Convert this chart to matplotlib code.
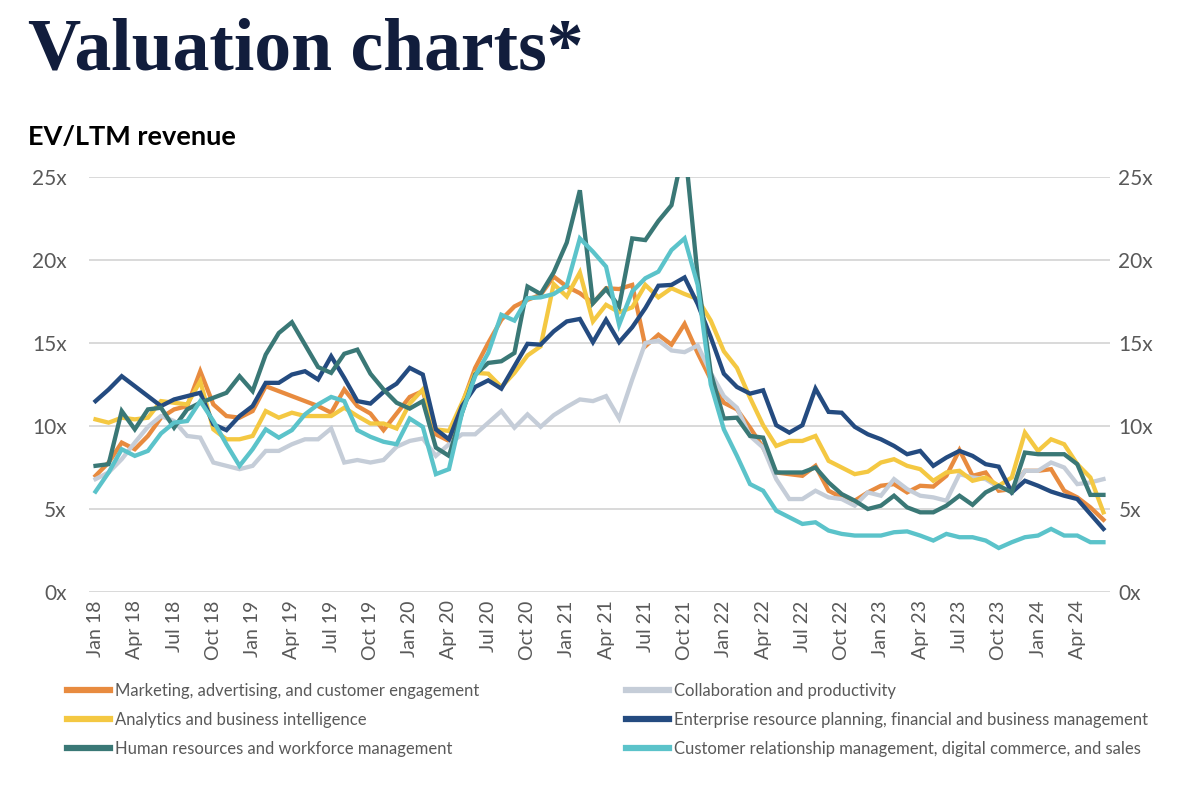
import matplotlib
matplotlib.use('Agg')
import matplotlib.pyplot as plt
from matplotlib.lines import Line2D
import numpy as np
import pandas as pd

# monthly categories Jan 18 .. Jun 24
months = pd.date_range('2018-01-01', periods=78, freq='MS')
month_labels = [m.strftime('%b %y') for m in months]

# EV / LTM revenue multiples
marketing = [7.0, 7.8, 9.0, 8.6, 9.4, 10.5, 11.0, 11.2, 13.3, 11.3,
             10.6, 10.5, 10.9, 12.4, 12.1, 11.8, 11.5, 11.2, 10.8, 12.2,
             11.2, 10.75, 9.75, 10.75, 11.75, 12.1, 9.5, 9.1, 11.3, 13.5,
             15.0, 16.4, 17.2, 17.6, 17.9, 19.0, 18.4, 18.0, 17.4, 18.3,
             18.25, 18.5, 14.8, 15.5, 14.9, 16.15, 14.4, 12.8, 11.4, 11.0,
             9.9, 8.7, 7.2, 7.1, 7.0, 7.6, 6.1, 5.7, 5.5, 6.0,
             6.4, 6.5, 6.0, 6.4, 6.35, 7.0, 8.55, 7.0, 7.2, 6.1,
             6.2, 7.3, 7.3, 7.4, 6.1, 5.7, 5.1, 4.35]

collaboration = [6.8, 7.2, 8.0, 9.0, 9.95, 10.6, 10.3, 9.4, 9.3, 7.8,
                 7.6, 7.4, 7.6, 8.5, 8.5, 8.9, 9.2, 9.2, 9.85, 7.8,
                 7.95, 7.8, 7.95, 8.75, 9.1, 9.25, 8.2, 8.9, 9.5, 9.5,
                 10.2, 10.9, 9.9, 10.7, 9.95, 10.65, 11.15, 11.6, 11.5, 11.8,
                 10.45, 12.8, 15.0, 15.15, 14.55, 14.45, 14.85, 13.2, 11.8, 11.1,
                 9.4, 8.7, 6.8, 5.6, 5.6, 6.1, 5.7, 5.6, 5.2, 6.0,
                 5.8, 6.8, 6.2, 5.8, 5.7, 5.5, 7.1, 6.9, 6.8, 6.3,
                 6.1, 7.3, 7.3, 7.8, 7.5, 6.5, 6.6, 6.8]

analytics = [10.4, 10.2, 10.5, 10.4, 10.5, 11.5, 11.4, 11.3, 12.7, 9.8,
             9.2, 9.2, 9.4, 10.9, 10.5, 10.8, 10.6, 10.6, 10.6, 11.1,
             10.6, 10.15, 10.15, 9.85, 11.35, 12.2, 9.8, 9.7, 11.4, 13.2,
             13.15, 12.35, 13.2, 14.25, 14.8, 18.55, 17.8, 19.25, 16.3, 17.3,
             16.85, 17.15, 18.5, 17.75, 18.3, 17.95, 17.65, 16.35, 14.5, 13.5,
             11.7, 10.05, 8.8, 9.1, 9.1, 9.4, 7.9, 7.5, 7.1, 7.25,
             7.8, 8.0, 7.6, 7.4, 6.7, 7.2, 7.3, 6.7, 6.9, 6.4,
             6.9, 9.6, 8.5, 9.2, 8.9, 7.7, 6.9, 4.8]

erp = [11.5, 12.2, 13.0, 12.4, 11.8, 11.2, 11.6, 11.8, 12.0, 10.1,
       9.75, 10.6, 11.2, 12.6, 12.6, 13.1, 13.3, 12.8, 14.2, 12.9,
       11.5, 11.35, 12.05, 12.55, 13.5, 13.1, 9.8, 9.2, 11.2, 12.35,
       12.75, 12.25, 13.6, 14.95, 14.9, 15.7, 16.3, 16.45, 15.05, 16.4,
       15.05, 15.95, 17.1, 18.45, 18.5, 18.95, 17.35, 15.35, 13.15, 12.35,
       11.95, 12.15, 10.05, 9.6, 10.05, 12.25, 10.85, 10.8, 9.95, 9.5,
       9.2, 8.8, 8.3, 8.5, 7.6, 8.1, 8.5, 8.2, 7.7, 7.55,
       6.0, 6.7, 6.4, 6.05, 5.8, 5.6, 4.7, 3.8]

hr = [7.6, 7.7, 10.9, 9.8, 11.0, 11.1, 9.9, 11.0, 11.4, 11.7,
      12.0, 13.0, 12.1, 14.3, 15.6, 16.25, 14.9, 13.55, 13.2, 14.35,
      14.6, 13.15, 12.2, 11.4, 11.05, 11.5, 8.7, 8.2, 10.8, 13.1,
      13.8, 13.9, 14.4, 18.4, 17.95, 19.25, 21.05, 24.2, 17.4, 18.25,
      17.2, 21.3, 21.2, 22.35, 23.3, 27.0, 19.0, 13.2, 10.45, 10.5,
      9.4, 9.3, 7.2, 7.2, 7.2, 7.5, 6.6, 5.9, 5.5, 5.0,
      5.2, 5.8, 5.1, 4.8, 4.8, 5.2, 5.8, 5.25, 6.0, 6.4,
      6.0, 8.4, 8.3, 8.3, 8.3, 7.7, 5.85, 5.85]

crm = [6.05, 7.2, 8.6, 8.2, 8.5, 9.55, 10.2, 10.3, 11.5, 10.3,
       8.9, 7.6, 8.6, 9.8, 9.3, 9.75, 10.7, 11.3, 11.75, 11.5,
       9.75, 9.35, 9.05, 8.9, 10.45, 9.95, 7.1, 7.4, 10.8, 13.0,
       14.4, 16.7, 16.35, 17.7, 17.75, 17.95, 18.45, 21.3, 20.5, 19.6,
       16.1, 18.1, 18.9, 19.3, 20.6, 21.3, 18.5, 12.5, 9.8, 8.2,
       6.5, 6.1, 4.9, 4.5, 4.1, 4.2, 3.7, 3.5, 3.4, 3.4,
       3.4, 3.6, 3.65, 3.4, 3.1, 3.5, 3.3, 3.3, 3.1, 2.65,
       3.0, 3.3, 3.4, 3.8, 3.4, 3.4, 3.0, 3.0]

series_names = ['Marketing, advertising, and customer engagement',
                'Collaboration and productivity',
                'Analytics and business intelligence',
                'Enterprise resource planning, financial and business management',
                'Human resources and workforce management',
                'Customer relationship management, digital commerce, and sales']
series_values = [marketing, collaboration, analytics, erp, hr, crm]
series_colors = ['#E88B3F', '#C5CDD8', '#F4C842', '#244B80', '#3A7876', '#5BC3CA']

y_ticks = [0, 5, 10, 15, 20, 25]

TEXT_GREY = '#595959'
GRID_GREY = '#D9D9D9'
NAVY = '#111D3C'
plt.rcParams['font.family'] = ['Lato', 'DejaVu Sans']

fig = plt.figure(figsize=(12, 7.99), dpi=100)
ax = fig.add_axes([89 / 1200, 1 - 592 / 799, 1021 / 1200, 415 / 799])

x = np.arange(len(months))
for vals, name, col in zip(series_values, series_names, series_colors):
    ax.plot(x, vals, color=col, lw=3.1, label=name, solid_joinstyle='miter')

ax.set_xlim(-0.5, len(months) - 0.5)
ax.set_ylim(0, 25)
ax.set_yticks(y_ticks)
ax.set_yticklabels([f'{v}x' for v in y_ticks])
ax.grid(axis='y', color=GRID_GREY, lw=1.4)
ax.set_axisbelow(True)
for s in ax.spines.values():
    s.set_visible(False)

qtr = x[::3]
ax.set_xticks(qtr)
ax.set_xticklabels([month_labels[i] for i in qtr], rotation=90, fontsize=14,
                   color=TEXT_GREY)
ax.tick_params(axis='x', length=0, pad=6)
ax.tick_params(axis='y', length=0, pad=16, labelsize=15, labelcolor=TEXT_GREY)

# right hand axis labels
ax2 = ax.twinx()
ax2.set_ylim(0, 25)
ax2.set_yticks(y_ticks)
ax2.set_yticklabels([f'{v}x' for v in y_ticks])
ax2.tick_params(axis='y', length=0, pad=6, labelsize=15, labelcolor=TEXT_GREY)
for s in ax2.spines.values():
    s.set_visible(False)

# titles
fig.text(28 / 1200, 1 - 70 / 799, 'Valuation charts*', family='Liberation Serif',
         fontweight='bold', fontsize=53, color=NAVY, va='baseline')
fig.text(28 / 1200, 1 - 145 / 799, 'EV/LTM revenue', fontweight='bold',
         fontsize=19.5, color='#000000', va='baseline')

# legend, two columns like the original
def make_handle(c):
    return Line2D([0], [0], color=c, lw=4.5)

for col_idx, x0 in enumerate([67, 626]):
    idx = [col_idx, col_idx + 2, col_idx + 4]
    leg = fig.legend([make_handle(series_colors[i]) for i in idx],
                     [series_names[i] for i in idx],
                     loc='upper left', bbox_to_anchor=(x0 / 1200, 1 - 683 / 799),
                     frameon=False, fontsize=12, handlelength=2.6,
                     handletextpad=0.3, labelspacing=0.78, borderaxespad=0,
                     borderpad=0)
    for t in leg.get_texts():
        t.set_color(TEXT_GREY)

fig.savefig('out.png', dpi=100)
